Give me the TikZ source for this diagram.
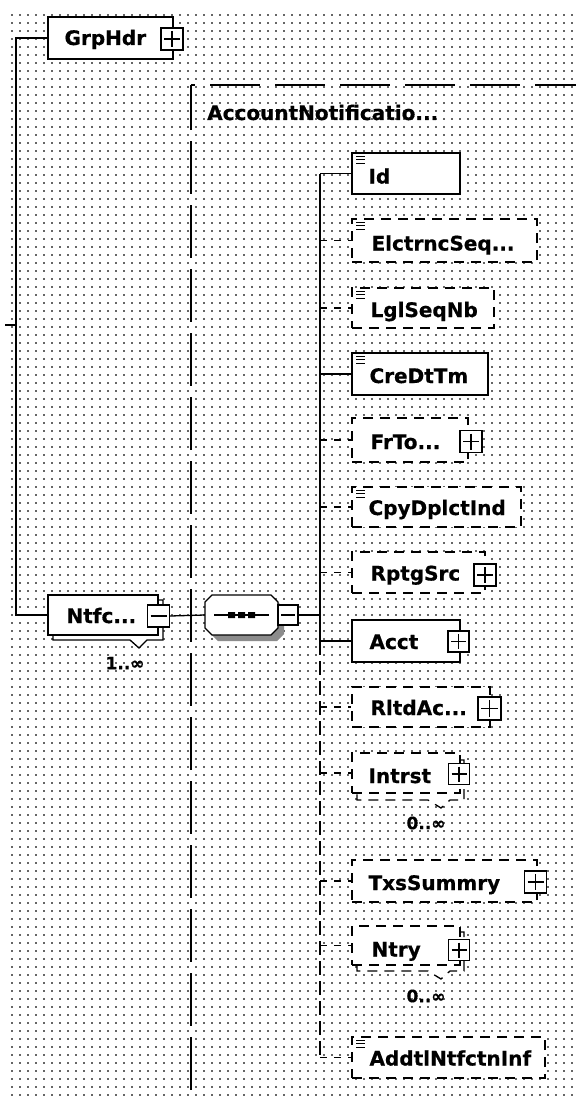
\documentclass[tikz,border=0pt]{standalone}
\usepackage{fontspec}
\setmainfont{DejaVu Sans}[BoldFeatures={FakeBold=0.6}]
\newcommand\lblfont{\fontsize{20pt}{22pt}\selectfont\bfseries}
\newcommand\multfont{\fontsize{17pt}{19pt}\selectfont\bfseries}
\newcommand\iconlines[1]{\foreach \d in {4,7.5,11}{\draw[line width=1pt] ([xshift=5pt,yshift=-\d pt]#1.north west) -- ++(9,0);}}
\newcommand\octpath[4]{(#1+7,#2) -- (#3-7,#2) -- (#3,#2+7) -- (#3,#4-7) -- (#3-7,#4) -- (#1+7,#4) -- (#1,#4-7) -- (#1,#2+7) -- cycle}
\begin{document}
\begin{tikzpicture}[x=1pt,y=-1pt,
  box/.style={draw, fill=white, line width=1.3pt, inner sep=0pt},
  dbox/.style={box, dash pattern=on 10pt off 7pt},
  lbl/.style={font=\lblfont, inner sep=0pt, anchor=base west},
  mult/.style={font=\multfont, inner sep=0pt},
  conn/.style={line width=1.3pt},
  dconn/.style={line width=1.3pt, dash pattern=on 7pt off 7pt},
  sq/.style={draw, fill=white, line width=1.4pt, inner sep=0pt, minimum size=#1},
  plussq/.style={sq=#1, path picture={\draw[line width=1.1pt] ([yshift=-3pt]path picture bounding box.north) -- ([yshift=3pt]path picture bounding box.south) ([xshift=3pt]path picture bounding box.west) -- ([xshift=-3pt]path picture bounding box.east);}},
  minussq/.style={sq=#1, path picture={\draw[line width=1.1pt] ([xshift=3pt]path picture bounding box.west) -- ([xshift=-3pt]path picture bounding box.east);}},
  dotrow/.style={line width=1.6pt, black!60, dash pattern=on 1.6pt off 6.4pt},
]
\useasboundingbox (0,0) rectangle (576,1097);
\fill[white] (0,0) rectangle (576,1097);
% dot grid
\foreach \yy in {15,23,...,1095} \draw[dotrow] (11.2,\yy) -- (576,\yy);

% complex type frame
\draw[line width=1.3pt, dash pattern=on 50pt off 15pt, dash phase=46pt] (191,85) -- (576,85);
\draw[line width=1.3pt, dash pattern=on 53pt off 11pt, dash phase=8pt] (191,85) -- (191,1097);
\node[lbl] (ctype) at (207,120) {AccountNotificatio...};

% GrpHdr
\node[box, minimum width=125pt, minimum height=42pt] (grphdr) at (110.5,38) {};
\node[lbl] (grphdrT) at ([xshift=17pt,yshift=-7pt]grphdr.west) {GrpHdr};
\node[plussq=22pt] (grphdrP) at (172,39) {};

% Ntfc
\draw[box] (53,600) -- (163,600) -- (163,640) -- (147,640) -- (139,648) -- (130,640) -- (53,640) -- cycle;
\node[box, minimum width=110pt, minimum height=40pt] (ntfc) at (103,615) {};
\node[lbl] (ntfcT) at ([xshift=19pt,yshift=-8pt]ntfc.west) {Ntfc...};
\node[minussq=22pt] (ntfcM) at (158.5,616) {};
\node[mult] (ntfcN) at (125,663) {1..∞};

\coordinate (lt) at (16,325);
\draw[conn] (grphdr.west) -- (grphdr.west -| lt) -- (ntfc.west -| lt) -- (ntfc.west);
\draw[conn] (lt) -- ++(-11,0);

% sequence compositor
\fill[black!45] \octpath{211}{601}{284}{641};
\draw[box] \octpath{205}{595}{278}{635};
\node[minimum width=73pt, minimum height=40pt, inner sep=0pt] (seq) at (241.5,615) {};
\draw[line width=1.2pt] (214,615) -- (269,615);
\fill (228,612) rectangle (235,618) (238,612) rectangle (245,618) (248,612) rectangle (255,618);
\node[minussq=20pt] (seqM) at (288,615) {};
\draw[conn] (ntfcM.east) -- (seq.west);
\coordinate (bus) at (320,615);
\draw[conn] (seqM.east) -- (bus);

% children
\node[box, minimum width=108pt, minimum height=41pt] (id) at (406,173.5) {};
\node[lbl] at ([xshift=17pt,yshift=-10pt]id.west) {Id};
\iconlines{id}

\node[dbox, minimum width=185pt, minimum height=43pt] (elc) at (444.5,240.5) {};
\node[lbl] at ([xshift=20pt,yshift=-10pt]elc.west) {ElctrncSeq...};
\iconlines{elc}

\node[dbox, minimum width=142pt, minimum height=40pt] (lgl) at (423,308) {};
\node[lbl] at ([xshift=19pt,yshift=-9pt]lgl.west) {LglSeqNb};
\iconlines{lgl}

\node[box, minimum width=136pt, minimum height=42pt] (cre) at (420,374) {};
\node[lbl] at ([xshift=18pt,yshift=-9pt]cre.west) {CreDtTm};
\iconlines{cre}

\node[dbox, minimum width=116pt, minimum height=44pt] (frto) at (410,440) {};
\node[lbl] at ([xshift=19pt,yshift=-9pt]frto.west) {FrTo...};
\node[plussq=22pt] (frtoP) at (471,441.5) {};

\node[dbox, minimum width=169pt, minimum height=40pt] (cpy) at (436.5,507) {};
\node[lbl] at ([xshift=17pt,yshift=-8pt]cpy.west) {CpyDplctInd};
\iconlines{cpy}

\node[dbox, minimum width=133pt, minimum height=41pt] (rptg) at (418.5,572.5) {};
\node[lbl] at ([xshift=19pt,yshift=-8pt]rptg.west) {RptgSrc};
\node[plussq=22pt] (rptgP) at (485,575) {};

\node[box, minimum width=108pt, minimum height=42pt] (acct) at (406,641) {};
\node[lbl] at ([xshift=18pt,yshift=-8pt]acct.west) {Acct};
\node[plussq=21pt] (acctP) at (458.5,641.5) {};

\node[dbox, minimum width=138pt, minimum height=40pt] (rltd) at (421,707) {};
\node[lbl] at ([xshift=19pt,yshift=-8pt]rltd.west) {RltdAc...};
\node[plussq=23pt] (rltdP) at (489.5,708.5) {};

\draw[dbox] (357,760) -- (464,760) -- (464,800) -- (450,800) -- (441,808) -- (428,800) -- (357,800) -- cycle;
\node[dbox, minimum width=108pt, minimum height=40pt] (intr) at (406,773) {};
\node[lbl] at ([xshift=17pt,yshift=-10pt]intr.west) {Intrst};
\node[plussq=21pt] (intrP) at (459,774) {};
\node[mult] (intrN) at (426,823) {0..∞};

\node[dbox, minimum width=185pt, minimum height=42pt] (txs) at (444.5,881) {};
\node[lbl] at ([xshift=17pt,yshift=-9pt]txs.west) {TxsSummry};
\node[plussq=22pt] (txsP) at (535.5,882) {};

\draw[dbox] (357,932) -- (464,932) -- (464,971) -- (450,971) -- (441,979) -- (428,971) -- (357,971) -- cycle;
\node[dbox, minimum width=108pt, minimum height=39pt] (ntry) at (406,945.5) {};
\node[lbl] at ([xshift=20pt,yshift=-11pt]ntry.west) {Ntry};
\node[plussq=21pt] (ntryP) at (459,950) {};
\node[mult] (ntryN) at (426,996) {0..∞};

\node[dbox, minimum width=193pt, minimum height=41pt] (addtl) at (448.5,1057.5) {};
\node[lbl] at ([xshift=18pt,yshift=-8pt]addtl.west) {AddtlNtfctnInf};
\iconlines{addtl}

% bus
\draw[conn] (bus |- id.west) -- (bus |- acct.west);
\draw[line width=1.3pt, dash pattern=on 14pt off 6pt] (bus |- acct.west) -- (bus |- addtl.west);
\foreach \n in {id,cre,acct} \draw[conn] (bus |- \n.west) -- (\n.west);
\foreach \n in {elc,lgl,frto,cpy,rptg,rltd,intr,txs,ntry,addtl} \draw[dconn] (bus |- \n.west) -- (\n.west);
\end{tikzpicture}
\end{document}
